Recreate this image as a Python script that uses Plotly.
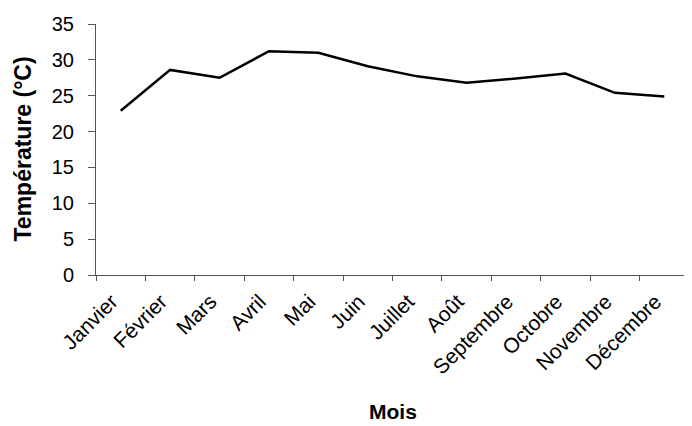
import plotly.graph_objects as go

mois = ["Janvier", "Février", "Mars", "Avril", "Mai", "Juin", "Juillet",
        "Août", "Septembre", "Octobre", "Novembre", "Décembre"]
temperature = [22.9, 28.6, 27.5, 31.2, 31.0, 29.1, 27.7, 26.8, 27.4, 28.1, 25.4, 24.9]
y_ticks = [0, 5, 10, 15, 20, 25, 30, 35]

fig = go.Figure()
fig.add_trace(go.Scatter(x=mois, y=temperature, mode="lines",
                         line=dict(color="black", width=2.5), showlegend=False))

font_family = "Liberation Sans, Arial, sans-serif"
axis_col = "#555555"
fig.update_layout(
    width=684, height=418,
    margin=dict(l=88, r=3, t=16, b=151),
    paper_bgcolor="white", plot_bgcolor="white",
    font=dict(family=font_family, color="black", size=20),
    xaxis=dict(
        type="category", range=[-0.5, 11.5], tickangle=-45,
        tickson="boundaries", ticks="outside", ticklen=5, tickcolor=axis_col,
        showline=True, linecolor=axis_col, linewidth=1, showgrid=False,
        tickfont=dict(size=21), automargin=False, ticklabelstandoff=5,
        ticklabelshift=-9,
    ),
    yaxis=dict(
        range=[0, 35], tickvals=y_ticks, ticks="outside", ticklen=7, tickcolor=axis_col,
        showline=True, linecolor=axis_col, linewidth=1, showgrid=False,
        zeroline=False, tickfont=dict(size=20), automargin=False, ticklabelstandoff=10,
    ),
    annotations=[
        dict(text="<b>Température (°C)</b>", xref="paper", yref="paper",
             x=0, y=0.5, xanchor="center", yanchor="middle", xshift=-74,
             textangle=-90, showarrow=False, font=dict(size=23)),
        dict(text="<b>Mois</b>", xref="paper", yref="paper",
             x=0.5, y=0, xanchor="center", yanchor="middle", yshift=-136,
             showarrow=False, font=dict(size=21)),
    ],
)

fig.write_html("out.html")
